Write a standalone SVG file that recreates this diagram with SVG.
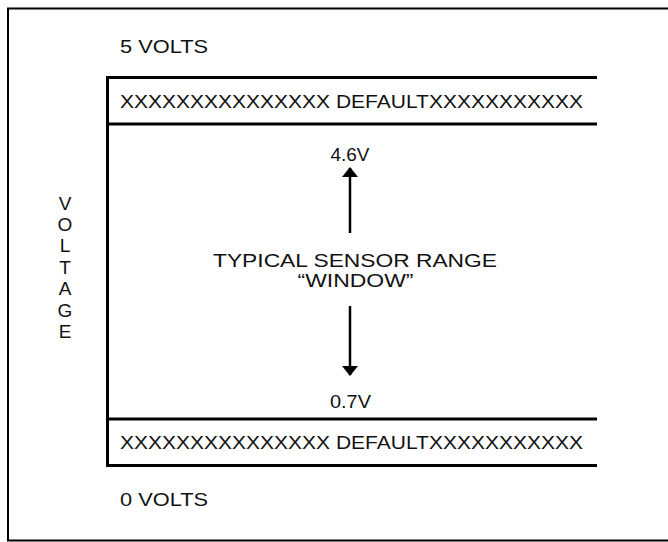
<svg xmlns="http://www.w3.org/2000/svg" width="668" height="542" viewBox="0 0 668 542">
<defs>
<style>
text{font-family:"Liberation Sans",Arial,sans-serif;font-size:19px;fill:#111;}
.c{text-anchor:middle;}
.ln{stroke:#000;stroke-width:3;fill:none;}
.ar{stroke:#000;stroke-width:2.5;fill:none;}
</style>
<marker id="ah" viewBox="0 0 10 16" refX="9" refY="8" markerWidth="4" markerHeight="6.4" markerUnits="strokeWidth" orient="auto">
<path d="M0,0 L10,8 L0,16 Z" fill="#000"/>
</marker>
</defs>
<rect width="668" height="542" fill="#fff"/>
<rect x="8" y="8.5" width="680" height="532" fill="none" stroke="#000" stroke-width="2"/>
<g id="labels">
<text x="120" y="53" textLength="88" lengthAdjust="spacingAndGlyphs">5 VOLTS</text>
<text x="120" y="506" textLength="88" lengthAdjust="spacingAndGlyphs">0 VOLTS</text>
<text class="c" x="65" y="210">V</text>
<text class="c" x="65" y="231">O</text>
<text class="c" x="65" y="252">L</text>
<text class="c" x="65" y="274">T</text>
<text class="c" x="65" y="295">A</text>
<text class="c" x="65" y="317">G</text>
<text class="c" x="65" y="338">E</text>
</g>
<g id="frame">
<path class="ln" d="M597,77.5 H107.5 V465.5 H597 M107.5,124 H597 M107.5,419 H597"/>
</g>
<g id="top-default">
<text x="120" y="108" textLength="463" lengthAdjust="spacingAndGlyphs">XXXXXXXXXXXXXXX DEFAULTXXXXXXXXXXX</text>
</g>
<g id="bottom-default">
<text x="120" y="449" textLength="463" lengthAdjust="spacingAndGlyphs">XXXXXXXXXXXXXXX DEFAULTXXXXXXXXXXX</text>
</g>
<g id="high">
<text class="c" x="350" y="161" textLength="39" lengthAdjust="spacingAndGlyphs">4.6V</text>
</g>
<g id="window">
<text class="c" x="355" y="267" textLength="284" lengthAdjust="spacingAndGlyphs">TYPICAL SENSOR RANGE</text>
<text class="c" x="355.5" y="287" textLength="116" lengthAdjust="spacingAndGlyphs">“WINDOW”</text>
</g>
<g id="low">
<text class="c" x="350.5" y="408" textLength="41" lengthAdjust="spacingAndGlyphs">0.7V</text>
</g>
<g id="connectors">
<line class="ar" x1="350" y1="233" x2="350" y2="168" marker-end="url(#ah)"/>
<line class="ar" x1="350" y1="306" x2="350" y2="375" marker-end="url(#ah)"/>
</g>
</svg>
